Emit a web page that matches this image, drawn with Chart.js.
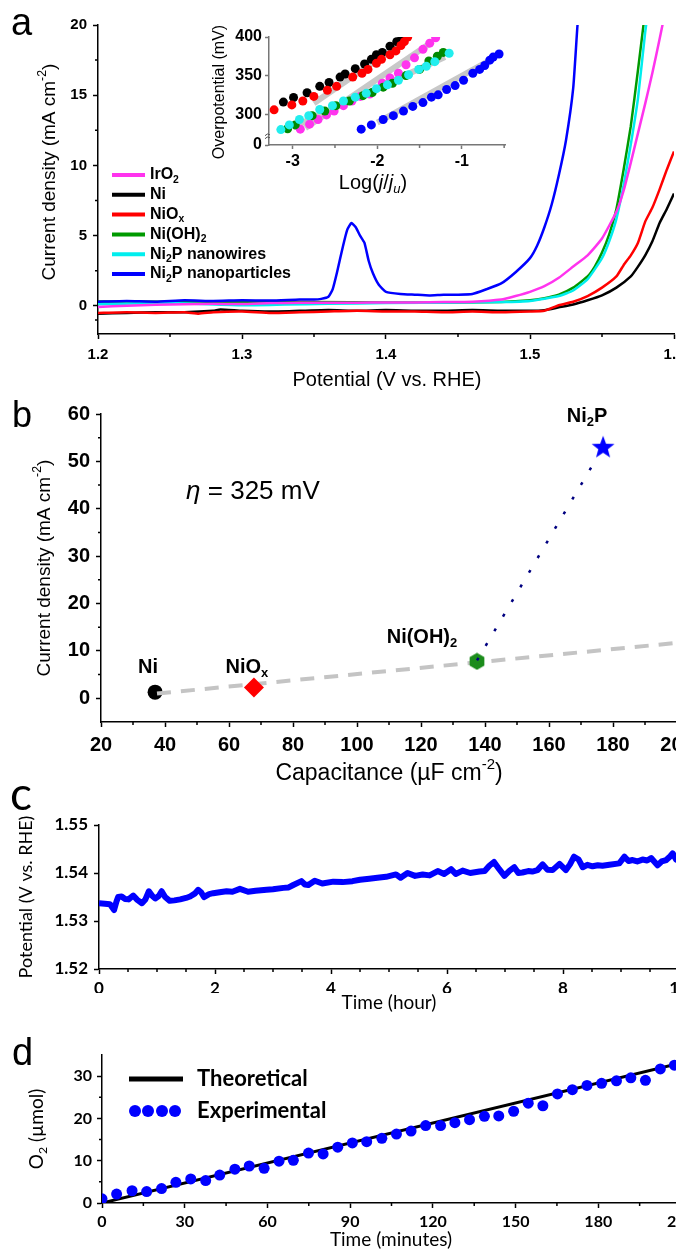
<!DOCTYPE html>
<html>
<head>
<meta charset="utf-8">
<script src="https://cdn.jsdelivr.net/npm/chart.js@4.4.1/dist/chart.umd.min.js"></script>
<style>
    html, body { margin: 0; padding: 0; background: #fff; width: 676px; height: 1249px; overflow: hidden; position: relative; }
    canvas { position: absolute; left: 0; }
</style>
</head>
<body>
<canvas id="chartA" width="700" height="400" style="top:0"></canvas>
<canvas id="chartInset" width="340" height="175" style="top:25px;left:180px"></canvas>
<canvas id="chartB" width="700" height="390" style="top:400px"></canvas>
<canvas id="chartC" width="700" height="245" style="top:775px"></canvas>
<canvas id="chartD" width="700" height="224" style="top:1025px"></canvas>
<script>
// ---- panel a : polarisation curves [potential V, current density mA cm-2]
const potentialTicks = [1.2, 1.3, 1.4, 1.5, 1.6];
const currentTicks = [0, 5, 10, 15, 20];

const irO2Curve = [[1.20, -0.08], [1.22, 0.02], [1.24, 0.08], [1.26, 0.12], [1.28, 0.15], [1.30, 0.13], [1.32, 0.2], [1.34, 0.22], [1.36, 0.22], [1.38, 0.23], [1.40, 0.25], [1.42, 0.25], [1.44, 0.27], [1.46, 0.3], [1.48, 0.45], [1.49, 0.7], [1.50, 1.0], [1.51, 1.4], [1.52, 2.0], [1.53, 2.8], [1.54, 3.6], [1.55, 4.8], [1.56, 6.7], [1.565, 8.2], [1.57, 10.2], [1.575, 12.3], [1.58, 14.4], [1.585, 16.6], [1.59, 19.0], [1.593, 20.5]];
const niCurve = [[1.20, -0.55], [1.22, -0.5], [1.24, -0.45], [1.26, -0.45], [1.28, -0.35], [1.285, -0.25], [1.30, -0.35], [1.32, -0.4], [1.34, -0.35], [1.36, -0.3], [1.38, -0.35], [1.40, -0.3], [1.42, -0.35], [1.44, -0.35], [1.46, -0.3], [1.48, -0.35], [1.50, -0.35], [1.51, -0.3], [1.52, -0.1], [1.53, 0.1], [1.54, 0.4], [1.55, 0.75], [1.56, 1.3], [1.57, 2.1], [1.575, 2.8], [1.58, 3.6], [1.585, 4.6], [1.59, 5.9], [1.595, 6.9], [1.6, 8.0]];
const niOxCurve = [[1.20, -0.5], [1.22, -0.45], [1.24, -0.5], [1.26, -0.45], [1.27, -0.55], [1.28, -0.45], [1.30, -0.4], [1.32, -0.5], [1.34, -0.45], [1.36, -0.4], [1.38, -0.35], [1.40, -0.4], [1.42, -0.4], [1.44, -0.45], [1.46, -0.4], [1.48, -0.45], [1.50, -0.4], [1.51, -0.35], [1.52, 0.05], [1.53, 0.3], [1.54, 0.7], [1.55, 1.3], [1.56, 2.1], [1.565, 2.9], [1.57, 3.6], [1.575, 4.5], [1.58, 6.0], [1.585, 7.0], [1.59, 8.3], [1.595, 9.7], [1.6, 11.0]];
const niOH2Curve = [[1.20, 0.32], [1.25, 0.3], [1.30, 0.3], [1.35, 0.28], [1.40, 0.25], [1.45, 0.25], [1.48, 0.28], [1.50, 0.4], [1.51, 0.55], [1.52, 0.8], [1.53, 1.3], [1.54, 2.1], [1.545, 2.8], [1.55, 3.8], [1.555, 5.1], [1.56, 6.9], [1.565, 9.7], [1.57, 12.8], [1.575, 16.8], [1.58, 21]];
const nanowireCurve = [[1.20, 0.12], [1.25, 0.2], [1.30, 0.05], [1.33, 0.1], [1.36, 0.15], [1.40, 0.2], [1.45, 0.25], [1.48, 0.27], [1.50, 0.35], [1.52, 0.7], [1.53, 1.1], [1.54, 1.9], [1.55, 3.4], [1.555, 4.6], [1.56, 6.2], [1.565, 8.6], [1.57, 11.5], [1.575, 14.8], [1.58, 19.5], [1.582, 21]];
const nanoparticleCurve = [[1.20, 0.3], [1.22, 0.35], [1.24, 0.3], [1.26, 0.4], [1.28, 0.35], [1.30, 0.4], [1.32, 0.38], [1.34, 0.45], [1.35, 0.45], [1.355, 0.5], [1.36, 0.65], [1.363, 1.2], [1.366, 2.4], [1.37, 4.2], [1.373, 5.4], [1.376, 5.9], [1.379, 5.6], [1.382, 5.0], [1.385, 4.5], [1.388, 3.2], [1.391, 2.3], [1.395, 1.5], [1.40, 1.0], [1.41, 0.85], [1.42, 0.8], [1.43, 0.75], [1.44, 0.8], [1.45, 0.8], [1.46, 0.85], [1.47, 1.2], [1.48, 1.6], [1.49, 2.4], [1.50, 3.4], [1.505, 4.3], [1.51, 5.6], [1.515, 7.2], [1.52, 9.3], [1.525, 11.8], [1.53, 15.5], [1.533, 20], [1.535, 22]];

// ---- inset : Tafel points [log(j/ju), overpotential mV]
const logTicks = [-3, -2, -1];
const overpotentialTicks = [260, 300, 350, 400];
const tafelNi = [[-3.11, 315.6], [-2.99, 321.6], [-2.83, 327.7], [-2.68, 336], [-2.57, 341], [-2.44, 348], [-2.38, 352], [-2.26, 359], [-2.15, 365], [-2.07, 371], [-2.01, 377], [-1.94, 380], [-1.85, 388], [-1.77, 394], [-1.71, 399]];
const tafelNiOx = [[-3.22, 305.6], [-3.01, 312], [-2.88, 317], [-2.75, 323], [-2.59, 331], [-2.48, 336], [-2.29, 348], [-2.18, 353], [-2.11, 358], [-2.01, 366], [-1.95, 371], [-1.85, 377], [-1.78, 382], [-1.72, 389], [-1.68, 394], [-1.64, 400]];
const tafelIrO2 = [[-2.91, 280.5], [-2.80, 287], [-2.70, 293], [-2.60, 299], [-2.51, 304], [-2.40, 311], [-2.30, 317], [-2.20, 323], [-2.09, 326], [-1.94, 340], [-1.85, 347], [-1.75, 353], [-1.66, 364], [-1.56, 373], [-1.46, 384], [-1.38, 392], [-1.31, 399]];
const tafelNiOH2 = [[-3.06, 281], [-2.97, 286], [-2.77, 298], [-2.62, 304], [-2.49, 311], [-2.33, 317], [-2.17, 324], [-2.06, 328], [-1.93, 335], [-1.82, 340], [-1.66, 350], [-1.50, 358], [-1.39, 369], [-1.29, 375], [-1.22, 380]];
const tafelNanowire = [[-3.14, 280], [-3.04, 286], [-2.92, 293], [-2.81, 298], [-2.68, 306], [-2.53, 311], [-2.40, 317], [-2.26, 322], [-2.13, 327], [-2.01, 333], [-1.88, 338], [-1.75, 344], [-1.63, 351], [-1.51, 358], [-1.42, 362], [-1.32, 368], [-1.15, 379]];
const tafelNanoparticle = [[-2.19, 280.5], [-2.07, 286], [-1.93, 293], [-1.81, 298], [-1.69, 304], [-1.58, 310], [-1.46, 315], [-1.36, 322], [-1.28, 325], [-1.18, 332], [-1.08, 337], [-0.98, 344], [-0.87, 353], [-0.79, 358], [-0.73, 363], [-0.67, 370], [-0.63, 374], [-0.56, 378]];
const tafelFits = [
    [[-2.75, 314], [-1.7, 393]],
    [[-3.0, 283], [-1.2, 374]],
    [[-2.85, 282], [-1.4, 390]],
    [[-2.0, 289], [-0.6, 374]],
];

// ---- panel b : activity vs capacitance [capacitance uF cm-2, current density]
const capacitanceTicks = [20, 40, 60, 80, 100, 120, 140, 160, 180, 200];
const activityTicks = [0, 10, 20, 30, 40, 50, 60];
const pointNi = [36.9, 1.3];
const pointNiOx = [67.8, 2.3];
const pointNiOH2 = [137.5, 7.8];
const pointNi2P = [176.9, 53.1];
const trendGray = [[37.5, 1.0], [200, 11.7]];
const trendNi2P = [[137.5, 8.0], [174.4, 50.1]];

// ---- panel c : stability [hour, V vs RHE]
const hourTicks = [0, 2, 4, 6, 8, 10];
const stabilityTicks = [1.52, 1.53, 1.54, 1.55];
const stability = [[0, 1.5337], [0.1, 1.5336], [0.19, 1.5335], [0.23, 1.5328], [0.26, 1.5323], [0.3, 1.534], [0.33, 1.535], [0.39, 1.5351], [0.45, 1.5346], [0.51, 1.5345], [0.59, 1.5353], [0.66, 1.5344], [0.74, 1.5337], [0.8, 1.5345], [0.86, 1.5362], [0.92, 1.5352], [0.97, 1.5347], [1.03, 1.5352], [1.08, 1.5362], [1.14, 1.535], [1.22, 1.5342], [1.3, 1.5343], [1.4, 1.5345], [1.5, 1.5348], [1.57, 1.5351], [1.65, 1.5357], [1.71, 1.5365], [1.76, 1.536], [1.81, 1.535], [1.9, 1.5356], [1.97, 1.5358], [2.08, 1.536], [2.2, 1.5362], [2.3, 1.5361], [2.43, 1.5367], [2.57, 1.5361], [2.7, 1.5363], [2.89, 1.5365], [3.0, 1.5366], [3.18, 1.5369], [3.27, 1.537], [3.35, 1.5375], [3.49, 1.5383], [3.55, 1.5376], [3.61, 1.5375], [3.72, 1.5384], [3.85, 1.5378], [4.04, 1.5382], [4.2, 1.5381], [4.37, 1.5383], [4.5, 1.5386], [4.66, 1.5388], [4.8, 1.539], [4.95, 1.5392], [5.12, 1.5397], [5.2, 1.539], [5.32, 1.54], [5.45, 1.5394], [5.58, 1.5397], [5.7, 1.5395], [5.84, 1.5404], [5.95, 1.5398], [6.07, 1.5408], [6.15, 1.5398], [6.27, 1.5405], [6.4, 1.54], [6.56, 1.5403], [6.65, 1.5404], [6.73, 1.5415], [6.81, 1.5423], [6.9, 1.5408], [6.99, 1.5394], [7.08, 1.5405], [7.16, 1.5412], [7.23, 1.54], [7.3, 1.5401], [7.4, 1.5404], [7.47, 1.5403], [7.56, 1.5406], [7.65, 1.5418], [7.73, 1.5407], [7.82, 1.5406], [7.94, 1.5419], [8.05, 1.5406], [8.12, 1.5418], [8.19, 1.5434], [8.27, 1.5428], [8.34, 1.5412], [8.42, 1.5417], [8.51, 1.5414], [8.6, 1.5416], [8.68, 1.5415], [8.8, 1.5417], [8.97, 1.542], [9.06, 1.5434], [9.13, 1.5425], [9.2, 1.5427], [9.28, 1.5424], [9.37, 1.5428], [9.45, 1.5426], [9.52, 1.5431], [9.58, 1.5423], [9.63, 1.5416], [9.7, 1.5424], [9.78, 1.5427], [9.85, 1.5435], [9.89, 1.5441], [9.95, 1.5428], [10.0, 1.5425]];

// ---- panel d : O2 evolution
const minuteTicks = [0, 30, 60, 90, 120, 150, 180, 210];
const o2Ticks = [0, 10, 20, 30];
const o2Minutes = [0, 5.3, 10.9, 16.2, 21.6, 26.8, 32.2, 37.6, 42.7, 48.2, 53.4, 58.8, 64.2, 69.4, 74.9, 80.2, 85.5, 90.8, 96.0, 101.5, 106.8, 112.1, 117.4, 122.8, 128.0, 133.3, 138.7, 143.9, 149.3, 154.6, 159.9, 165.2, 170.6, 175.9, 181.2, 186.6, 191.8, 197.1, 202.5, 207.6];
const o2Measured = [1.0, 2.1, 2.9, 2.7, 3.4, 4.9, 5.7, 5.3, 6.6, 8.0, 8.75, 8.2, 9.9, 10.1, 11.8, 11.6, 13.2, 14.2, 14.5, 15.3, 16.3, 17.0, 18.3, 18.3, 19.0, 19.7, 20.5, 20.6, 21.7, 23.6, 23.0, 25.8, 26.8, 27.8, 28.3, 28.9, 29.6, 29.0, 31.7, 32.6];
const o2Theoretical = [[0, 0], [210, 33.1]];

// ------------------------------------------------------------------
Chart.defaults.animation = false;
Chart.defaults.events = [];
Chart.defaults.font.family = "Liberation Sans";
Chart.defaults.plugins.legend.display = false;
Chart.defaults.plugins.tooltip.enabled = false;

const ARIAL = "Liberation Sans";
const CALIBRI = "Lato";
const toXY = (pairs) => pairs.map(([x, y]) => ({ x, y }));

// draw text with sub/superscripts; parts are strings or {t, sub|sup|it}
function rich(ctx, x, y, parts, o) {
    const wt = o.bold ? "bold " : "";
    const segs = parts.map((p) => (typeof p === "string" ? { t: p } : { ...p }));
    let total = 0;
    for (const s of segs) {
        const sz = s.sub || s.sup ? o.size * 0.65 : o.size;
        s.font = (s.it ? "italic " : "") + wt + sz + "px " + (o.family || ARIAL);
        ctx.font = s.font;
        s.w = ctx.measureText(s.t).width;
        s.dy = s.sub ? o.size * 0.3 : s.sup ? -o.size * 0.38 : 0;
        total += s.w;
    }
    ctx.save();
    ctx.translate(x, y);
    if (o.rot) ctx.rotate(o.rot);
    ctx.fillStyle = o.color || "#000";
    ctx.textBaseline = o.baseline || "middle";
    ctx.textAlign = "left";
    let cx = o.align === "left" ? 0 : -total / 2;
    for (const s of segs) {
        ctx.font = s.font;
        ctx.fillText(s.t, cx, s.dy);
        cx += s.w;
    }
    ctx.restore();
}

function scaleOpts(o) {
    return {
        type: "linear",
        min: o.min,
        max: o.max,
        afterBuildTicks: (s) => {
            s.ticks = o.ticks.map((v) => ({ value: v }));
        },
        afterFit: (s) => {
            if (o.axis === "x") {
                s.height = o.size;
                s.paddingLeft = 0;
                s.paddingRight = 0;
            } else {
                s.width = o.size;
                s.paddingTop = 0;
                s.paddingBottom = 0;
            }
        },
        grid: { drawOnChartArea: false, drawTicks: true, tickLength: o.tickLen || 5, tickColor: o.color || "#000", tickWidth: 1.5 },
        border: { display: true, color: o.color || "#000", width: 1.5 },
        ticks: { autoSkip: false, maxRotation: 0, padding: o.pad, color: "#000", font: o.font, callback: o.fmt },
    };
}

// short unlabelled ticks between the labelled ones
function minorTicks(xs, ys, len, color) {
    return {
        id: "minorTicks",
        afterDraw(chart) {
            const { ctx, chartArea } = chart;
            ctx.save();
            ctx.strokeStyle = color || "#000";
            ctx.lineWidth = 1.5;
            ctx.beginPath();
            xs.forEach((v) => {
                const px = chart.scales.x.getPixelForValue(v);
                ctx.moveTo(px, chartArea.bottom);
                ctx.lineTo(px, chartArea.bottom + len);
            });
            ys.forEach((v) => {
                const py = chart.scales.y.getPixelForValue(v);
                ctx.moveTo(chartArea.left, py);
                ctx.lineTo(chartArea.left - len, py);
            });
            ctx.stroke();
            ctx.restore();
        },
    };
}

const decor = (fn) => ({ id: "decor", afterDraw: (chart) => fn(chart, chart.ctx) });

const baseOptions = (padding, x, y) => ({
    responsive: false,
    devicePixelRatio: 1,
    layout: { padding },
    scales: { x, y },
});

// ---------------- panel a
const seriesA = [
    { name: ["Ni"], color: "#000000", data: niCurve },
    { name: ["NiO", { t: "x", sub: true }], color: "#ff0000", data: niOxCurve },
    { name: ["Ni(OH)", { t: "2", sub: true }], color: "#009a00", data: niOH2Curve },
    { name: ["Ni", { t: "2", sub: true }, "P nanowires"], color: "#00eeee", data: nanowireCurve },
    { name: ["IrO", { t: "2", sub: true }], color: "#ff33ee", data: irO2Curve },
    { name: ["Ni", { t: "2", sub: true }, "P nanoparticles"], color: "#0000ff", data: nanoparticleCurve },
];
const legendOrderA = [4, 0, 1, 2, 3, 5];
const tickFontA = { family: ARIAL, size: 15, weight: "bold" };

new Chart(document.getElementById("chartA"), {
    type: "scatter",
    data: {
        datasets: seriesA.slice().reverse().map((s) => ({
            data: toXY(s.data),
            showLine: true,
            pointRadius: 0,
            borderColor: s.color,
            borderWidth: 2.5,
            tension: 0.15,
        })),
    },
    options: baseOptions(
        { left: 38, top: 25, right: 26, bottom: 36 },
        scaleOpts({ axis: "x", min: 1.2, max: 1.6, ticks: potentialTicks, size: 30, pad: 7, font: tickFontA, fmt: (v) => v.toFixed(1) }),
        scaleOpts({ axis: "y", min: -2, max: 20, ticks: currentTicks, size: 60, pad: 6, font: tickFontA, fmt: (v) => v })
    ),
    plugins: [
        minorTicks([1.25, 1.35, 1.45, 1.55], [2.5, 7.5, 12.5, 17.5, -1], 3),
        decor((chart, ctx) => {
            rich(ctx, 11, 35, ["a"], { size: 38, align: "left", baseline: "alphabetic" });
            rich(ctx, 50, 172, ["Current density (mA cm", { t: "-2", sup: true }, ")"], { size: 19, rot: -Math.PI / 2 });
            rich(ctx, 387, 380, ["Potential (V vs. RHE)"], { size: 20 });
            legendOrderA.forEach((idx, row) => {
                const s = seriesA[idx];
                const y = 175 + row * 19.8;
                ctx.save();
                ctx.strokeStyle = s.color;
                ctx.lineWidth = 4;
                ctx.beginPath();
                ctx.moveTo(112, y);
                ctx.lineTo(145, y);
                ctx.stroke();
                ctx.restore();
                rich(ctx, 150, y, s.name, { size: 16, bold: true, align: "left" });
            });
        }),
    ],
});

// ---------------- inset
const tafelSets = [
    { data: tafelNi, color: "#000000" },
    { data: tafelNiOx, color: "#ff0000" },
    { data: tafelIrO2, color: "#ff33ee" },
    { data: tafelNiOH2, color: "#008a00" },
    { data: tafelNanowire, color: "#22eeee" },
    { data: tafelNanoparticle, color: "#0000ff" },
];
const tickFontInset = { family: ARIAL, size: 16, weight: "bold" };

new Chart(document.getElementById("chartInset"), {
    type: "scatter",
    data: {
        datasets: [
            ...tafelSets.slice().reverse().map((s) => ({
                data: toXY(s.data),
                pointRadius: 4.5,
                pointBackgroundColor: s.color,
                pointBorderWidth: 0,
            })),
            ...tafelFits.map((f) => ({
                data: toXY(f),
                showLine: true,
                pointRadius: 0,
                borderColor: "#c8c8c8",
                borderWidth: 6,
            })),
        ],
    },
    options: baseOptions(
        { left: 49, top: 12, right: 15, bottom: 33 },
        scaleOpts({ axis: "x", min: -3.28, max: -0.49, ticks: logTicks, size: 22, pad: 3, tickLen: 4, color: "#777", font: tickFontInset, fmt: (v) => v }),
        scaleOpts({ axis: "y", min: 260, max: 400, ticks: overpotentialTicks, size: 40, pad: 3, tickLen: 4, color: "#777", font: tickFontInset, fmt: (v) => (v === 260 ? "0" : v) })
    ),
    plugins: [
        minorTicks([-2.5, -1.5, -0.5], [], 3, "#777"),
        decor((chart, ctx) => {
            const { left } = chart.chartArea;
            const yb = chart.scales.y.getPixelForValue(272);
            ctx.save();
            ctx.strokeStyle = "#555";
            ctx.lineWidth = 1;
            ctx.beginPath();
            ctx.moveTo(left - 4, yb);
            ctx.quadraticCurveTo(left - 2, yb - 3, left + 1, yb - 1);
            ctx.moveTo(left - 4, yb + 3);
            ctx.quadraticCurveTo(left - 2, yb, left + 1, yb + 2);
            ctx.stroke();
            ctx.restore();
            rich(ctx, 40, 67, ["Overpotential (mV)"], { size: 16, rot: -Math.PI / 2 });
            rich(ctx, 193, 158, ["Log(", { t: "j", it: true }, "/", { t: "j", it: true }, { t: "u", sub: true, it: true }, ")"], { size: 20 });
        }),
    ],
});

// ---------------- panel b
function shapeImage(size, color, draw) {
    const c = document.createElement("canvas");
    c.width = c.height = size;
    const g = c.getContext("2d");
    g.fillStyle = color;
    g.beginPath();
    draw(g, size / 2);
    g.closePath();
    g.fill();
    return c;
}
const hexagon = shapeImage(18, "#1b8c1b", (g, r) => {
    for (let k = 0; k < 6; k++) {
        const a = -Math.PI / 2 + (k * Math.PI) / 3;
        g.lineTo(r + (r - 0.5) * Math.cos(a), r + (r - 0.5) * Math.sin(a));
    }
});
const star = shapeImage(24, "#0000ff", (g, r) => {
    for (let k = 0; k < 10; k++) {
        const a = -Math.PI / 2 + (k * Math.PI) / 5;
        const rr = k % 2 ? r * 0.42 : r;
        g.lineTo(r + rr * Math.cos(a), r + 1 + rr * Math.sin(a));
    }
});
const tickFontB = { family: ARIAL, size: 20, weight: "bold" };

new Chart(document.getElementById("chartB"), {
    type: "scatter",
    data: {
        datasets: [
            { data: toXY(trendNi2P), showLine: true, pointRadius: 0, borderColor: "#000080", borderWidth: 2.5, borderDash: [3, 14] },
            { data: toXY([pointNi2P]), pointStyle: star, pointRadius: 12 },
            { data: toXY([pointNiOH2]), pointStyle: hexagon, pointRadius: 9 },
            { data: toXY([pointNiOx]), pointStyle: "rectRot", pointRadius: 10, pointBackgroundColor: "#ff0000", pointBorderWidth: 0 },
            { data: toXY(trendGray), showLine: true, pointRadius: 0, borderColor: "#c4c4c4", borderWidth: 4, borderDash: [14, 10] },
            { data: toXY([pointNi]), pointRadius: 7.5, pointBackgroundColor: "#000000", pointBorderWidth: 0 },
        ],
    },
    options: baseOptions(
        { left: 41, top: 14, right: 23, bottom: 38 },
        scaleOpts({ axis: "x", min: 20, max: 200, ticks: capacitanceTicks, size: 30, pad: 6, font: tickFontB, fmt: (v) => v }),
        scaleOpts({ axis: "y", min: -5, max: 60, ticks: activityTicks, size: 60, pad: 6, font: tickFontB, fmt: (v) => v })
    ),
    plugins: [
        minorTicks([30, 50, 70, 90, 110, 130, 150, 170, 190], [5, 15, 25, 35, 45, 55], 3),
        decor((chart, ctx) => {
            const sx = (v) => chart.scales.x.getPixelForValue(v);
            const sy = (v) => chart.scales.y.getPixelForValue(v);
            const lab = { size: 20, bold: true };
            rich(ctx, 12, 27, ["b"], { size: 36, align: "left", baseline: "alphabetic" });
            rich(ctx, 45, 168, ["Current density (mA cm", { t: "-2", sup: true }, ")"], { size: 19, rot: -Math.PI / 2 });
            rich(ctx, 389, 374, ["Capacitance (\u00b5F cm", { t: "-2", sup: true }, ")"], { size: 23 });
            rich(ctx, sx(34.7), sy(6.6), ["Ni"], lab);
            rich(ctx, sx(65.6), sy(6.6), ["NiO", { t: "x", sub: true }], lab);
            rich(ctx, sx(120.3), sy(12.9), ["Ni(OH)", { t: "2", sub: true }], lab);
            rich(ctx, sx(171.9), sy(59.4), ["Ni", { t: "2", sub: true }, "P"], lab);
            rich(ctx, sx(46.6), sy(43.5), [{ t: "\u03b7", it: true }, " = 325 mV"], { size: 26, align: "left" });
        }),
    ],
});

// ---------------- panel c
const tickFontC = { family: CALIBRI, size: 17, weight: "bold" };
new Chart(document.getElementById("chartC"), {
    type: "scatter",
    data: {
        datasets: [{ data: toXY(stability), showLine: true, pointRadius: 0, borderColor: "#0000ff", borderWidth: 6, borderJoinStyle: "round" }],
    },
    options: baseOptions(
        { left: 39, top: 50, right: 21, bottom: 27 },
        scaleOpts({ axis: "x", min: 0, max: 10, ticks: hourTicks, size: 24, pad: 4, font: tickFontC, fmt: (v) => v }),
        scaleOpts({ axis: "y", min: 1.52, max: 1.55, ticks: stabilityTicks, size: 60, pad: 6, font: tickFontC, fmt: (v) => v.toFixed(2) })
    ),
    plugins: [
        minorTicks([0.5, 1, 1.5, 2.5, 3, 3.5, 4.5, 5, 5.5, 6.5, 7, 7.5, 8.5, 9, 9.5], [], 3),
        decor((chart, ctx) => {
            rich(ctx, 10, 35, ["c"], { size: 46, family: CALIBRI, align: "left", baseline: "alphabetic" });
            rich(ctx, 26, 122, ["Potential (V vs. RHE)"], { size: 18, family: CALIBRI, rot: -Math.PI / 2 });
            rich(ctx, 389, 228, ["Time (hour)"], { size: 19, family: CALIBRI });
        }),
    ],
});

// ---------------- panel d
const tickFontD = { family: CALIBRI, size: 16, weight: "bold" };
new Chart(document.getElementById("chartD"), {
    type: "scatter",
    data: {
        datasets: [
            { data: o2Minutes.map((x, i) => ({ x, y: o2Measured[i] })), pointRadius: 5.5, pointBackgroundColor: "#0000ff", pointBorderWidth: 0 },
            { data: toXY(o2Theoretical), showLine: true, pointRadius: 0, borderColor: "#000000", borderWidth: 3 },
        ],
    },
    options: baseOptions(
        { left: 42, top: 30, right: 19, bottom: 22 },
        scaleOpts({ axis: "x", min: 0, max: 210, ticks: minuteTicks, size: 24, pad: 4, font: tickFontD, fmt: (v) => v }),
        scaleOpts({ axis: "y", min: 0, max: 35, ticks: o2Ticks, size: 60, pad: 5, font: tickFontD, fmt: (v) => v })
    ),
    plugins: [
        minorTicks([15, 45, 75, 105, 135, 165, 195], [5, 15, 25], 3),
        decor((chart, ctx) => {
            rich(ctx, 12, 40, ["d"], { size: 38, align: "left", baseline: "alphabetic" });
            rich(ctx, 37, 104, ["O", { t: "2", sub: true }, " (\u00b5mol)"], { size: 19, family: CALIBRI, rot: -Math.PI / 2 });
            rich(ctx, 391, 215, ["Time (minutes)"], { size: 19, family: CALIBRI });
            ctx.save();
            ctx.strokeStyle = "#000";
            ctx.lineWidth = 5;
            ctx.beginPath();
            ctx.moveTo(129, 54);
            ctx.lineTo(183, 54);
            ctx.stroke();
            ctx.fillStyle = "#0000ff";
            [135, 148, 162, 175].forEach((x) => {
                ctx.beginPath();
                ctx.arc(x, 86, 6, 0, Math.PI * 2);
                ctx.fill();
            });
            ctx.restore();
            rich(ctx, 197, 54, ["Theoretical"], { size: 22, bold: true, family: CALIBRI, align: "left" });
            rich(ctx, 197, 86, ["Experimental"], { size: 22, bold: true, family: CALIBRI, align: "left" });
        }),
    ],
});
</script>
</body>
</html>
